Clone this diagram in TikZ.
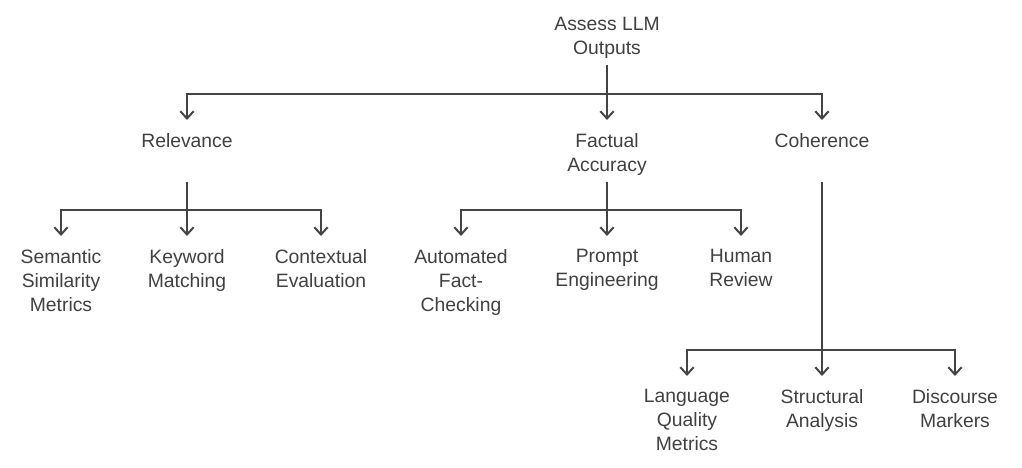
\documentclass[tikz,border=0pt]{standalone}
\usepackage{fontspec}
\setmainfont{Liberation Sans}
\usetikzlibrary{arrows.meta,calc}
\definecolor{ink}{HTML}{444444}
\definecolor{txt}{HTML}{404040}
\tikzset{
  lbl/.style={anchor=north, align=center, inner xsep=0pt, inner ysep=10pt, outer sep=0pt,
    text=txt, font=\fontsize{14.5}{18}\selectfont},
  conn/.style={draw=ink, line width=1.5pt, -{Straight Barb[length=5.5pt,width=10pt,line width=1.5pt]}},
}
\begin{document}
\begin{tikzpicture}[x=0.75pt,y=-0.75pt]
\useasboundingbox (0,0) rectangle (1022,468);
% nodes
\node[lbl] (root) at (607,3.8) {Assess LLM\\Outputs};
\node[lbl] (rel) at (187,120) {Relevance};
\node[lbl] (fac) at (607,120) {Factual\\Accuracy};
\node[lbl] (coh) at (822,120) {Coherence};
\node[lbl] (sem) at (61,236) {Semantic\\Similarity\\Metrics};
\node[lbl] (key) at (187,236) {Keyword\\Matching};
\node[lbl] (ctx) at (321,236) {Contextual\\Evaluation};
\node[lbl] (aut) at (461,236) {Automated\\Fact-\\Checking};
\node[lbl] (pro) at (607,236) {Prompt\\Engineering};
\node[lbl] (hum) at (741,236) {Human\\Review};
\node[lbl] (lan) at (687,376) {Language\\Quality\\Metrics};
\node[lbl] (str) at (822,376) {Structural\\Analysis};
\node[lbl] (dis) at (955,376) {Discourse\\Markers};
% connectors
\foreach \p/\c in {root/rel,root/fac,root/coh,
                   rel/sem,rel/key,rel/ctx,
                   fac/aut,fac/pro,fac/hum,
                   coh/lan,coh/str,coh/dis}{
  \draw[conn] ($(\p.north)+(0,61.5)$) |- ($(\c.north)+(0,-26)$) -- (\c.north);
}
\end{tikzpicture}
\end{document}
